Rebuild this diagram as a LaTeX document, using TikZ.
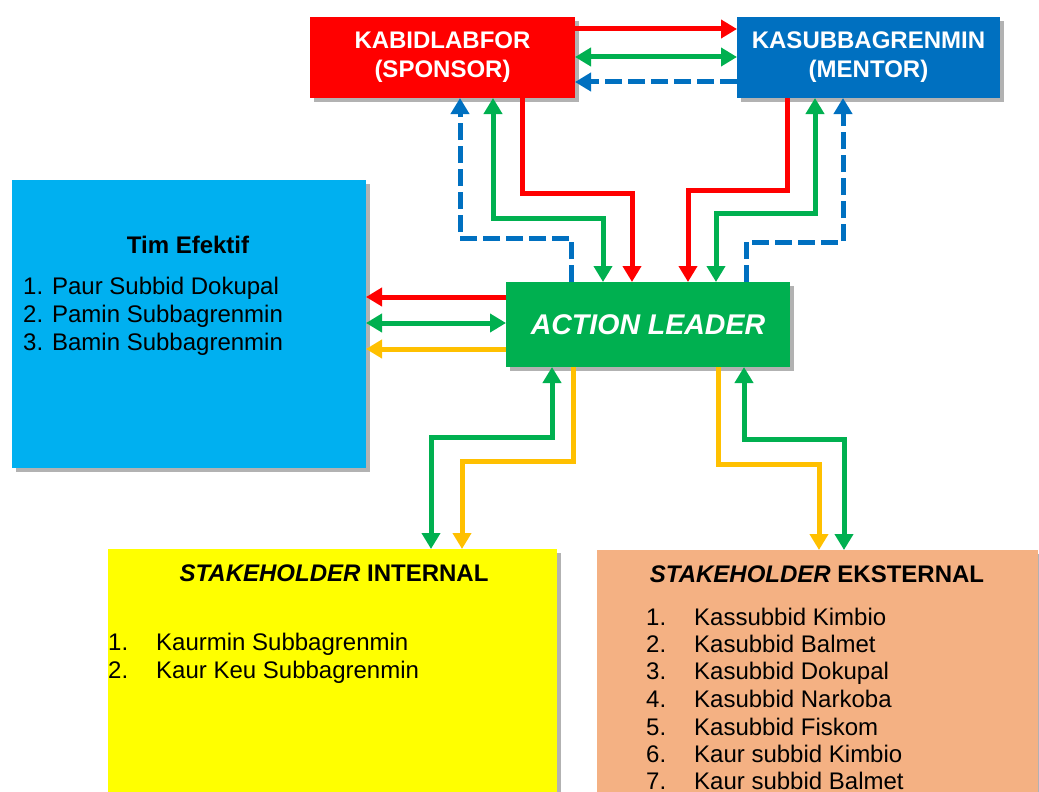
\documentclass[tikz,border=0pt]{standalone}
\usepackage{fontspec}
\setmainfont{Liberation Sans}
\usetikzlibrary{arrows.meta,shadows}
\definecolor{cRed}{HTML}{FF0000}
\definecolor{cBlue}{HTML}{0070C0}
\definecolor{cCyan}{HTML}{00B0F0}
\definecolor{cGreen}{HTML}{00B050}
\definecolor{cYel}{HTML}{FFFF00}
\definecolor{cPeach}{HTML}{F4B183}
\definecolor{cOr}{HTML}{FFC000}
\begin{document}
\begin{tikzpicture}[x=1pt,y=-1pt,
  >={Triangle[width=18pt,length=16pt]},
  box/.style={draw=none, inner sep=0pt, outer sep=0pt, anchor=north west,
    drop shadow={shadow xshift=4pt, shadow yshift=-4pt, opacity=0.3, fill=black}},
  ln/.style={line width=5pt},
  dsh/.style={line width=5pt, dash pattern=on 17pt off 6pt},
  big/.style={font=\fontsize{24}{29}\selectfont\bfseries, text=white, align=center},
  txt/.style={font=\fontsize{24}{28}\selectfont, anchor=base west, inner sep=0pt},
  ttl/.style={font=\fontsize{24}{28}\selectfont\bfseries, anchor=base, inner sep=0pt},
]
\useasboundingbox (0,0) rectangle (1039,792);
\clip (0,0) rectangle (1039,792);

% boxes
\node[box, fill=cRed, minimum width=265pt, minimum height=81pt, big] (spon) at (310,17) {KABIDLABFOR\\(SPONSOR)};
\node[box, fill=cBlue, minimum width=263pt, minimum height=81pt, big] (ment) at (737,17) {KASUBBAGRENMIN\\(MENTOR)};
\node[box, fill=cCyan, minimum width=354pt, minimum height=288pt] (tim) at (12,180) {};
\node[box, fill=cGreen, minimum width=284pt, minimum height=85pt,
  font=\fontsize{28.5}{30}\selectfont\bfseries\itshape, text=white] (al) at (506,282) {ACTION LEADER};
\node[box, fill=cYel, minimum width=449pt, minimum height=260pt] (int) at (108,549) {};
\node[box, fill=cPeach, minimum width=441pt, minimum height=260pt] (ext) at (597,550) {};

% texts
\node[ttl] (timt) at (188,253) {Tim Efektif};
\node[txt] (t1) at (23,294) {1. Paur Subbid Dokupal};
\node[txt] (t2) at (23,322) {2. Pamin Subbagrenmin};
\node[txt] (t3) at (23,350) {3. Bamin Subbagrenmin};

\node[ttl] (intt) at (334,581) {\textit{STAKEHOLDER} INTERNAL};
\node[txt] (in1) at (108,650) {1.};
\node[txt] (it1) at (156,650) {Kaurmin Subbagrenmin};
\node[txt] (in2) at (108,678) {2.};
\node[txt] (it2) at (156,678) {Kaur Keu Subbagrenmin};

\node[ttl] (extt) at (817,582) {\textit{STAKEHOLDER} EKSTERNAL};
\foreach \i/\yy/\t in {1/625/Kassubbid Kimbio,2/652/Kasubbid Balmet,3/679/Kasubbid Dokupal,4/707/Kasubbid Narkoba,5/735/Kasubbid Fiskom,6/762/Kaur subbid Kimbio,7/789/Kaur subbid Balmet}{
  \node[txt] (en\i) at (646,\yy) {\i.};
  \node[txt] (et\i) at (694,\yy) {\t};
}

% top connectors
\draw[ln, cRed, ->] (spon.east |- 0,29) -- (ment.west |- 0,29);
\draw[ln, cGreen, <->] (spon.east |- 0,57) -- (ment.west |- 0,57);
\draw[dsh, cBlue, ->] (ment.west |- 0,82) -- (spon.east |- 0,82);

% sponsor <-> action leader
\draw[dsh, cBlue, ->] (al.north -| 571,0) |- (460,238) -- (spon.south -| 460,0);
\draw[ln, cGreen, <->] (spon.south -| 493,0) |- (603,218) -- (al.north -| 603,0);
\draw[ln, cRed, ->] (spon.south -| 522,0) |- (632,193) -- (al.north -| 632,0);

% mentor <-> action leader
\draw[ln, cRed, ->] (ment.south -| 787,0) |- (688,190) -- (al.north -| 688,0);
\draw[ln, cGreen, <->] (ment.south -| 815,0) |- (716,213) -- (al.north -| 716,0);
\draw[dsh, cBlue, ->] (al.north -| 746,0) |- (843,242) -- (ment.south -| 843,0);

% tim efektif
\draw[ln, cRed, ->] (al.west |- 0,297) -- (tim.east |- 0,297);
\draw[ln, cGreen, <->] (tim.east |- 0,323) -- (al.west |- 0,323);
\draw[ln, cOr, ->] (al.west |- 0,349) -- (tim.east |- 0,349);

% stakeholders
\draw[ln, cGreen, <->] (al.south -| 552,0) |- (431,437) -- (int.north -| 431,0);
\draw[ln, cOr, ->] (al.south -| 573,0) |- (462,461) -- (int.north -| 462,0);
\draw[ln, cOr, ->] (al.south -| 718,0) |- (819,464) -- (ext.north -| 819,0);
\draw[ln, cGreen, <->] (al.south -| 744,0) |- (844,439) -- (ext.north -| 844,0);
\end{tikzpicture}
\end{document}
